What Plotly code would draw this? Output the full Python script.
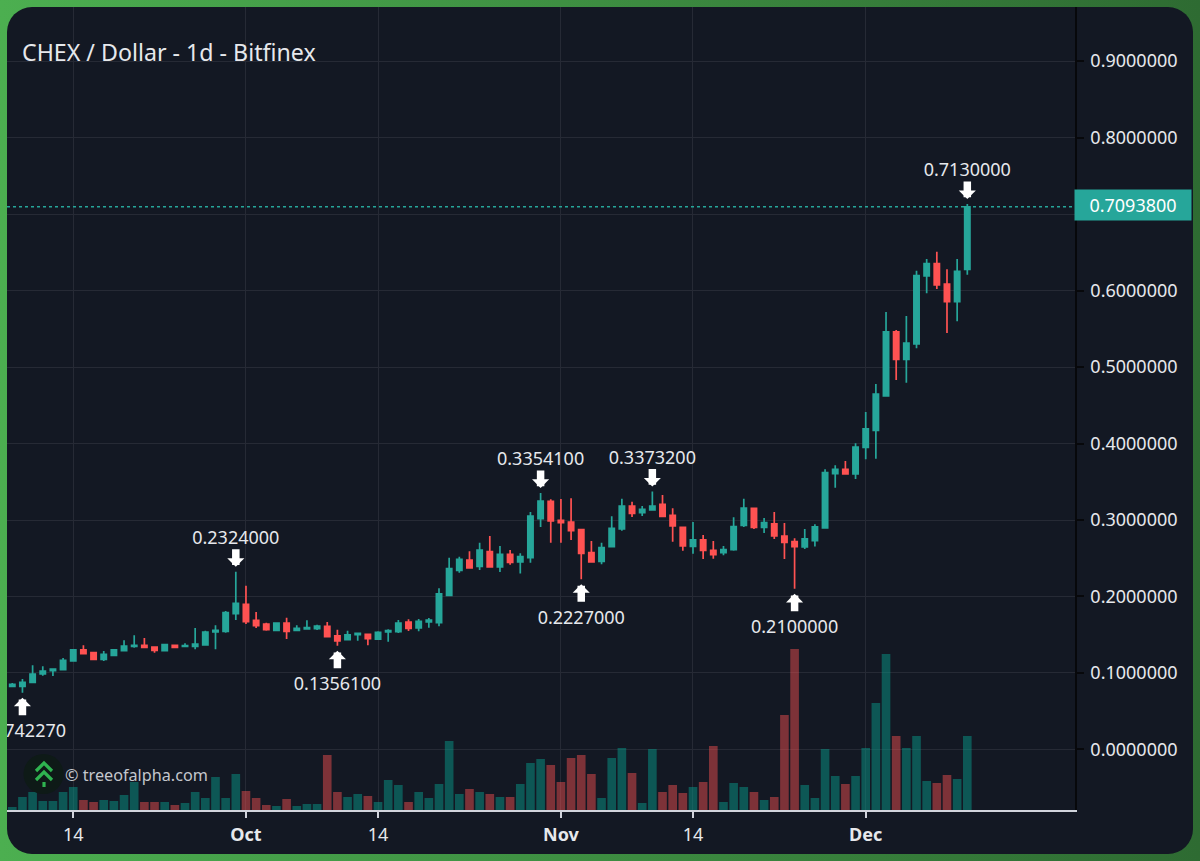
import base64
import pandas as pd
import plotly.graph_objects as go

dates = pd.date_range("2023-09-08", "2023-12-11", freq="D")

opens = [.0826, .0826, .0878, .0987, .1030, .1043, .1157, .1301, .1266, .1179, .1231, .1292, .1348, .1362, .1340, .1292, .1362, .1348, .1348, .1366, .1536, .1545, .1775,
         .1897, .1688, .1640, .1558, .1653, .1558, .1575, .1579, .1610, .1484, .1436, .1501, .1505, .1444, .1536, .1540, .1666, .1588, .1667, .1658, .2015, .2342, .2477, .2394, .2586, .2386, .2551, .2451, .2508, .3017, .3244,
         .2996, .2974, .2874, .2573, .2460, .2652, .2882, .3183, .3096, .3131, .3205, .3061, .2904, .2656, .2739, .2604, .2573, .2612, .2930, .3153, .2904, .2948, .2791, .2717, .2647, .2730, .2896, .3606, .3662, .3601,
         .3950, .4172, .4621, .5458, .5100, .5301, .6190, .6351, .6085, .5854, .6277]
highs = [.0869, .0921, .1100, .1087, .1057, .1196, .1309, .1362, .1274, .1287, .1309, .1427, .1492, .1457, .1344, .1379, .1366, .1388, .1588, .1553, .1623, .1810, .2324,
         .2141, .1797, .1658, .1662, .1723, .1623, .1688, .1632, .1667, .1566, .1553, .1527, .1510, .1545, .1571, .1693, .1702, .1706, .1719, .2107, .2508, .2521, .2591, .2704, .2791, .2660, .2608, .2564, .3105, .3354, .3270,
         .3275, .3283, .2878, .2726, .2704, .3048, .3279, .3240, .3183, .3373, .3327, .3153, .2913, .2974, .2804, .2726, .2660, .3035, .3279, .3162, .3026, .3105, .2961, .2760, .2882, .2944, .3662, .3715, .3771, .4002,
         .4412, .4778, .5719, .5484, .5667, .6259, .6412, .6508, .6277, .6412, .7130]
lows = [.0813, .0742, .0869, .0965, .0961, .1035, .1152, .1244, .1174, .1157, .1222, .1287, .1331, .1331, .1266, .1287, .1322, .1335, .1309, .1357, .1309, .1527, .1693,
        .1640, .1588, .1553, .1553, .1444, .1553, .1571, .1562, .1470, .1356, .1431, .1423, .1362, .1440, .1409, .1523, .1549, .1545, .1593, .1610, .2011, .2312, .2368, .2347, .2381, .2320, .2416, .2299, .2442, .2909, .2704,
        .2704, .2739, .2227, .2447, .2421, .2647, .2860, .3039, .3052, .3127, .3035, .2717, .2599, .2560, .2490, .2494, .2538, .2599, .2909, .2882, .2830, .2752, .2490, .2100, .2621, .2652, .2891, .3423, .3597, .3536,
        .3793, .3802, .4612, .4830, .4795, .5244, .5963, .6020, .5445, .5597, .6207]
closes = [.0852, .0878, .0987, .1026, .1052, .1165, .1301, .1253, .1179, .1244, .1301, .1353, .1362, .1335, .1296, .1370, .1335, .1357, .1379, .1536, .1558, .1789, .1911,
          .1671, .1619, .1566, .1653, .1545, .1584, .1592, .1614, .1475, .1418, .1497, .1518, .1449, .1531, .1553, .1653, .1584, .1675, .1693, .2033, .2364, .2486, .2373, .2608, .2386, .2551, .2447, .2521, .3052, .3248, .2987,
          .2965, .2861, .2564, .2451, .2638, .2891, .3183, .3087, .3140, .3183, .3048, .2922, .2660, .2739, .2604, .2547, .2612, .2913, .3157, .2904, .2965, .2791, .2708, .2652, .2752, .2909, .3619, .3662, .3601, .3954,
          .4190, .4647, .5458, .5100, .5314, .6194, .6351, .6072, .5854, .6251, .70938]
# volume has no scale in the picture, so these are relative bar heights
volumes = [3, 13, 18, 9, 9, 18, 23, 10, 8, 10, 9, 15, 28, 8, 8, 8, 5, 7, 18, 12, 33, 12, 36,
           19, 12, 5, 4, 11, 4, 6, 6, 55, 18, 13, 16, 14, 8, 30, 25, 8, 18, 12, 26, 69, 16, 21, 18, 16, 13, 13, 26, 47, 51, 45,
           28, 52, 55, 36, 12, 52, 62, 37, 7, 61, 18, 25, 17, 23, 28, 64, 8, 27, 23, 18, 10, 13, 95, 161, 25, 12, 61, 34, 26, 34,
           62, 107, 156, 74, 62, 74, 29, 27, 35, 31, 74]

tick_dates = ["2023-09-14", "2023-10-01", "2023-10-14", "2023-11-01", "2023-11-14", "2023-12-01"]
tick_labels = ["14", "<b>Oct</b>", "14", "<b>Nov</b>", "14", "<b>Dec</b>"]
price_ticks = [0, .1, .2, .3, .4, .5, .6, .7, .8, .9]

marker_dates = ["2023-09-09", "2023-09-30", "2023-10-10", "2023-10-30", "2023-11-03", "2023-11-10", "2023-11-24", "2023-12-11"]
marker_values = [.0742270, .2324, .13561, .33541, .2227, .33732, .21, .713]
marker_kinds = ["low", "high", "low", "high", "low", "high", "low", "high"]

last_price = .70938

GREEN = "#26a69a"
RED = "#ff5252"
PANEL = "#131823"
GRID = "#262a35"
TEXT = "#e6e8ec"
FONT = "Noto Sans"

W, H = 1200, 861
L, R, T, B = 7, 1075, 7, 810


def px_x(x):
    return (x - L) / (R - L)


def px_y(y):
    return (B - y) / (B - T)


def svg_uri(body):
    svg = f'<svg xmlns="http://www.w3.org/2000/svg" width="{W}" height="{H}" viewBox="0 0 {W} {H}">{body}</svg>'
    return "data:image/svg+xml;base64," + base64.b64encode(svg.encode()).decode()


backdrop = svg_uri(
    '<defs><linearGradient id="g" x1="0" x2="1" y1="0" y2="0">'
    '<stop offset="0" stop-color="#4caf50"/><stop offset="1" stop-color="#2e6b32"/></linearGradient></defs>'
    f'<rect width="{W}" height="{H}" fill="url(#g)"/>'
    f'<rect x="7" y="7" width="1186" height="847" rx="25" ry="25" fill="{PANEL}"/>'
)
logo = svg_uri(
    '<circle cx="43.5" cy="774" r="20" fill="#0e1a17"/>'
    '<path d="M36 771 L44 763 L52 771 M36 780 L44 772 L52 780" fill="none" stroke="#2fb350" stroke-width="3.2"/>'
    '<path d="M44 782 V787" stroke="#2fb350" stroke-width="3.2"/>'
)
images = [
    dict(source=backdrop, xref="paper", yref="paper", x=px_x(0), y=px_y(0), sizex=W / (R - L), sizey=H / (B - T),
         xanchor="left", yanchor="top", sizing="stretch", layer="below"),
    dict(source=logo, xref="paper", yref="paper", x=px_x(0), y=px_y(0), sizex=W / (R - L), sizey=H / (B - T),
         xanchor="left", yanchor="top", sizing="stretch", layer="above"),
]

vol_colors = ["rgba(8,150,135,0.5)" if c >= o else "rgba(255,82,82,0.45)" for o, c in zip(opens, closes)]

fig = go.Figure()
fig.add_trace(go.Bar(x=dates, y=volumes, marker_color=vol_colors, marker_line_width=0, yaxis="y2", showlegend=False))
fig.add_trace(go.Candlestick(x=dates, open=opens, high=highs, low=lows, close=closes, whiskerwidth=0,
                             increasing=dict(line=dict(color=GREEN, width=1.7), fillcolor=GREEN),
                             decreasing=dict(line=dict(color=RED, width=1.7), fillcolor=RED),
                             showlegend=False))

# text labels sit in a trace so the plot area clips them at the left edge
label_y = [v + .042 if k == "high" else v - .0524 for v, k in zip(marker_values, marker_kinds)]
fig.add_trace(go.Scatter(x=marker_dates, y=label_y, mode="text", text=[f"{v:.7f}" for v in marker_values],
                         textposition="middle center", textfont=dict(family=FONT, size=18, color=TEXT),
                         cliponaxis=True, showlegend=False))

for d, v, k in zip(marker_dates, marker_values, marker_kinds):
    fig.add_annotation(x=d, y=v, xref="x", yref="y", text="", showarrow=True, arrowhead=1, arrowsize=.38, arrowwidth=7.5,
                       arrowcolor="#ffffff", ax=0, ay=-24 if k == "high" else 24, standoff=5)

fig.add_annotation(text="CHEX / Dollar - 1d - Bitfinex", xref="paper", yref="paper", x=px_x(20), y=px_y(52),
                   xanchor="left", yanchor="middle", showarrow=False, font=dict(family=FONT, size=23.2, color=TEXT))
fig.add_annotation(text="© treeofalpha.com", xref="paper", yref="paper", x=px_x(63), y=px_y(775),
                   xanchor="left", yanchor="middle", showarrow=False, font=dict(family=FONT, size=16.2, color="#c4c7cd"))
fig.add_annotation(text=f"{last_price:.7f}", xref="paper", yref="y", x=1, y=last_price, xanchor="left", yanchor="middle",
                   showarrow=False, width=112, height=26, bgcolor=GREEN, borderpad=2, align="center",
                   xshift=-1, yshift=1.5, font=dict(family=FONT, size=18, color="#ffffff"))

fig.add_shape(type="line", xref="paper", yref="y", x0=0, x1=1, y0=last_price, y1=last_price,
              line=dict(color=GREEN, width=1.5, dash="3px,3px"))

fig.update_layout(
    width=W, height=H, margin=dict(l=L, r=W - R, t=T, b=H - B, autoexpand=False),
    paper_bgcolor="rgba(0,0,0,0)", plot_bgcolor="rgba(0,0,0,0)",
    images=images, bargap=.15, boxgap=.26, showlegend=False, font=dict(family=FONT, color=TEXT),
    xaxis=dict(type="date", range=["2023-09-07 11:30", "2023-12-21 14:24"], rangeslider_visible=False,
               tickmode="array", tickvals=tick_dates, ticktext=tick_labels, tickangle=0,
               showgrid=True, gridcolor=GRID, gridwidth=1.3, zeroline=False,
               showline=True, linecolor="#d1d4dc", linewidth=2, ticks="outside", ticklen=6, tickwidth=2,
               tickcolor="#d1d4dc", ticklabelstandoff=1, tickfont=dict(family=FONT, size=18, color=TEXT)),
    yaxis=dict(range=[-.0791, .9706], side="right", tickmode="array", tickvals=price_ticks,
               ticktext=[f"{v:.7f}" if v != .7 else "" for v in price_ticks],
               showgrid=True, gridcolor=GRID, gridwidth=1.3, zeroline=False,
               showline=True, linecolor="#07080b", linewidth=1.5, ticks="outside", ticklen=7, tickwidth=1.5,
               tickcolor="#07080b", ticklabelstandoff=3, tickfont=dict(family=FONT, size=18, color=TEXT)),
    yaxis2=dict(overlaying="y", range=[0, B - T], visible=False),
)

fig.write_html("out.html", config=dict(displayModeBar=False), post_script="document.body.style.margin='0';")
